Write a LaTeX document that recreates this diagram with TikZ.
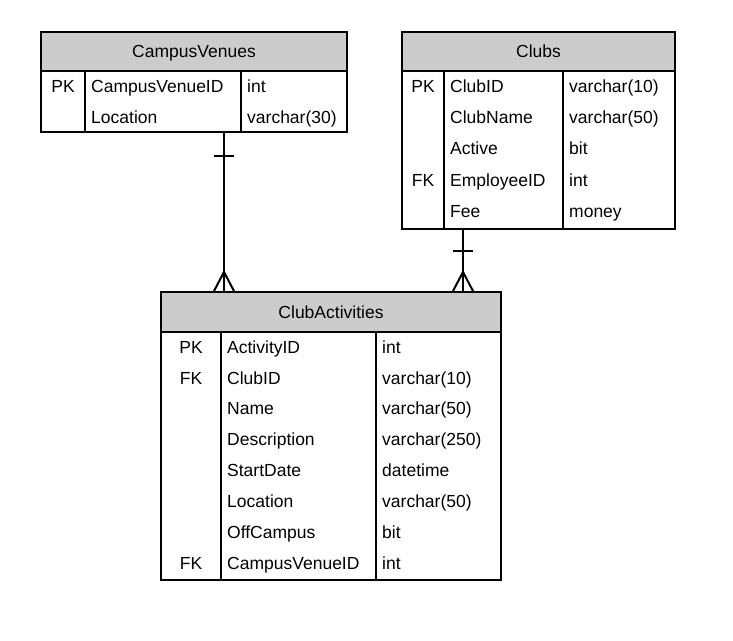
\documentclass[tikz,border=0pt]{standalone}
\usepackage{fontspec}
\setmainfont{Liberation Sans}
\definecolor{hdrgray}{HTML}{CCCCCC}

\begin{document}
\begin{tikzpicture}[x=1pt,y=-1pt,
    txt/.style={inner sep=0pt,text height=12.5pt,text depth=0pt,font=\fontsize{17.5}{21}\selectfont},
    tbl/.style={draw,line width=2pt,rectangle,inner sep=0pt,outer sep=0pt,anchor=north west},
    hdr/.style={tbl,txt,fill=hdrgray,text height=12.5pt},
    key/.style={txt,anchor=center},
    fld/.style={txt,anchor=west},
    link/.style={line width=2pt}]

    \useasboundingbox (0,0) rectangle (733,640);

    % CampusVenues
    \node[hdr,minimum width=306pt,minimum height=39pt] (cvHead) at (41,32) {CampusVenues};
    \node[tbl,minimum width=306pt,minimum height=61pt] (cvBody) at (41,71) {};
    \draw[link] ([xshift=44pt]cvBody.north west) -- ([xshift=44pt]cvBody.south west);
    \draw[link] ([xshift=200pt]cvBody.north west) -- ([xshift=200pt]cvBody.south west);

    \node[key] (cvK1) at (63,86) {PK};
    \node[fld] (cvF1) at (91,86) {CampusVenueID};
    \node[fld] (cvT1) at (247,86) {int};
    \node[fld] (cvF2) at (91,117) {Location};
    \node[fld] (cvT2) at (247,117) {varchar(30)};

    % Clubs
    \node[hdr,minimum width=273pt,minimum height=39pt] (clHead) at (402,32) {Clubs};
    \node[tbl,minimum width=273pt,minimum height=158pt] (clBody) at (402,71) {};
    \draw[link] ([xshift=42pt]clBody.north west) -- ([xshift=42pt]clBody.south west);
    \draw[link] ([xshift=161pt]clBody.north west) -- ([xshift=161pt]clBody.south west);

    \node[key] (clK1) at (423,86) {PK};
    \node[fld] (clF1) at (450,86) {ClubID};
    \node[fld] (clT1) at (569,86) {varchar(10)};
    \node[fld] (clF2) at (450,117) {ClubName};
    \node[fld] (clT2) at (569,117) {varchar(50)};
    \node[fld] (clF3) at (450,148) {Active};
    \node[fld] (clT3) at (569,148) {bit};
    \node[key] (clK4) at (423,180) {FK};
    \node[fld] (clF4) at (450,180) {EmployeeID};
    \node[fld] (clT4) at (569,180) {int};
    \node[fld] (clF5) at (450,211) {Fee};
    \node[fld] (clT5) at (569,211) {money};

    % ClubActivities
    \node[hdr,minimum width=340pt,minimum height=40pt] (caHead) at (161,292) {ClubActivities};
    \node[tbl,minimum width=340pt,minimum height=248pt] (caBody) at (161,332) {};
    \draw[link] ([xshift=60pt]caBody.north west) -- ([xshift=60pt]caBody.south west);
    \draw[link] ([xshift=215pt]caBody.north west) -- ([xshift=215pt]caBody.south west);

    \node[key] (caK1) at (191,347) {PK};
    \node[fld] (caF1) at (227,347) {ActivityID};
    \node[fld] (caT1) at (382,347) {int};
    \node[key] (caK2) at (191,378) {FK};
    \node[fld] (caF2) at (227,378) {ClubID};
    \node[fld] (caT2) at (382,378) {varchar(10)};
    \node[fld] (caF3) at (227,408) {Name};
    \node[fld] (caT3) at (382,408) {varchar(50)};
    \node[fld] (caF4) at (227,439) {Description};
    \node[fld] (caT4) at (382,439) {varchar(250)};
    \node[fld] (caF5) at (227,470) {StartDate};
    \node[fld] (caT5) at (382,470) {datetime};
    \node[fld] (caF6) at (227,501) {Location};
    \node[fld] (caT6) at (382,501) {varchar(50)};
    \node[fld] (caF7) at (227,532) {OffCampus};
    \node[fld] (caT7) at (382,532) {bit};
    \node[key] (caK8) at (191,563) {FK};
    \node[fld] (caF8) at (227,563) {CampusVenueID};
    \node[fld] (caT8) at (382,563) {int};

    % relationships
    \coordinate (cvEnd) at ([xshift=183pt]cvBody.south west);
    \coordinate (caEndL) at ([xshift=63pt]caHead.north west);
    \coordinate (clEnd) at ([xshift=61pt]clBody.south west);
    \coordinate (caEndR) at ([xshift=302pt]caHead.north west);

    \draw[link] (cvEnd) -- (caEndL);
    \draw[link] (cvEnd) ++(-10,24) -- ++(20,0);
    \draw[link] (caEndL) ++(-10.5,0) -- ++(10.5,-20) -- ++(10.5,20);

    \draw[link] (clEnd) -- (caEndR);
    \draw[link] (clEnd) ++(-10,22) -- ++(20,0);
    \draw[link] (caEndR) ++(-10.5,0) -- ++(10.5,-20) -- ++(10.5,20);

\end{tikzpicture}
\end{document}
